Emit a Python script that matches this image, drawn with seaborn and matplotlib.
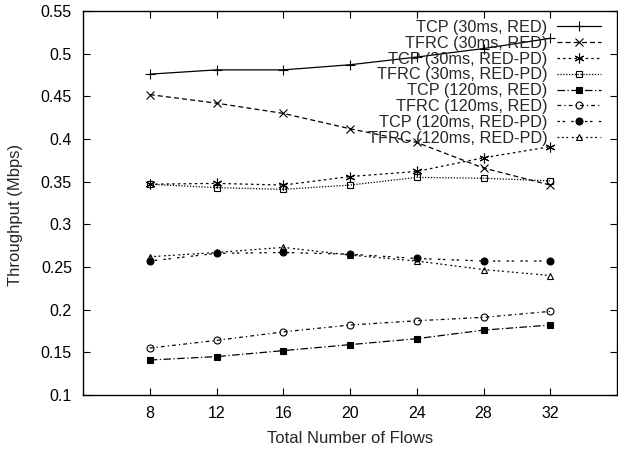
import matplotlib
matplotlib.use("Agg")
import matplotlib.pyplot as plt
from matplotlib.ticker import FuncFormatter
import seaborn as sns
import pandas as pd

flows = [8, 12, 16, 20, 24, 28, 32]
tcp_30_red = [0.476, 0.481, 0.481, 0.487, 0.496, 0.506, 0.518]
tfrc_30_red = [0.452, 0.442, 0.430, 0.412, 0.396, 0.366, 0.346]
tcp_30_redpd = [0.347, 0.348, 0.346, 0.356, 0.362, 0.378, 0.391]
tfrc_30_redpd = [0.347, 0.343, 0.341, 0.346, 0.355, 0.354, 0.351]
tcp_120_red = [0.141, 0.145, 0.152, 0.159, 0.166, 0.176, 0.182]
tfrc_120_red = [0.155, 0.164, 0.174, 0.182, 0.187, 0.191, 0.198]
tcp_120_redpd = [0.257, 0.266, 0.267, 0.265, 0.260, 0.257, 0.257]
tfrc_120_redpd = [0.262, 0.267, 0.273, 0.264, 0.257, 0.247, 0.240]

labels = ["TCP (30ms, RED)", "TFRC (30ms, RED)", "TCP (30ms, RED-PD)",
          "TFRC (30ms, RED-PD)", "TCP (120ms, RED)", "TFRC (120ms, RED)",
          "TCP (120ms, RED-PD)", "TFRC (120ms, RED-PD)"]
series = [tcp_30_red, tfrc_30_red, tcp_30_redpd, tfrc_30_redpd,
          tcp_120_red, tfrc_120_red, tcp_120_redpd, tfrc_120_redpd]

styles = [
    dict(marker="+", ls="-", mfc="black", ms=7),
    dict(marker="x", ls=(0, (4, 2.5)), mfc="black", ms=5.5),
    dict(marker=(6, 2, 0), ls=(0, (2, 2.5)), mfc="black", ms=7),
    dict(marker="s", ls=(0, (1, 1.3)), mfc="none", ms=5),
    dict(marker="s", ls=(0, (6, 2, 1, 2)), mfc="black", ms=5),
    dict(marker="o", ls=(0, (3, 2.5, 1, 2.5)), mfc="none", ms=5),
    dict(marker="o", ls=(0, (2, 2, 2, 5)), mfc="black", ms=5),
    dict(marker="^", ls=(0, (1.5, 2, 1.5, 2, 1.5, 3)), mfc="none", ms=5),
]

sns.set_style("ticks")
plt.rcParams["font.family"] = ["Liberation Sans", "DejaVu Sans"]

W, H = 618, 449
L, R, T, B = 83, 617, 11, 395
fig = plt.figure(figsize=(W / 100, H / 100), dpi=100)
ax = fig.add_axes([L / W, 1 - B / H, (R - L) / W, (B - T) / H])

for lab, vals, st in zip(labels, series, styles):
    df = pd.DataFrame({"flows": flows, "tp": vals})
    sns.lineplot(data=df, x="flows", y="tp", ax=ax, color="black", lw=0.9,
                 marker=st["marker"], linestyle=st["ls"], markersize=st["ms"],
                 markerfacecolor=st["mfc"], markeredgecolor="black",
                 markeredgewidth=0.8, label=lab, legend=False)

ax.set_xlim(4, 36)
ax.set_ylim(0.1, 0.55)
ax.set_xticks(flows)
ax.set_yticks([0.1, 0.15, 0.2, 0.25, 0.3, 0.35, 0.4, 0.45, 0.5, 0.55])
ax.yaxis.set_major_formatter(FuncFormatter(lambda v, p: f"{v:g}"))
ax.tick_params(direction="in", length=5, width=0.8, top=True, right=True,
               labelsize=11.5, colors="black", pad=8)
for s in ax.spines.values():
    s.set_linewidth(1.0)
    s.set_color("black")
ax.set_xlabel("Total Number of Flows", fontsize=12, labelpad=7)
ax.set_ylabel("Throughput (Mbps)", fontsize=12)
ax.yaxis.set_label_coords((23 - L) / (R - L), (B - 215) / (B - T))

handles = ax.get_lines()
leg = ax.legend(handles, labels, loc="upper right", frameon=False,
                markerfirst=False, fontsize=11.7, handlelength=2.7,
                handletextpad=0.6, labelspacing=0.05, borderaxespad=0,
                borderpad=0, bbox_to_anchor=((601 - L) / (R - L), (B - 20) / (B - T)))

fig.savefig("out.png", dpi=100)
